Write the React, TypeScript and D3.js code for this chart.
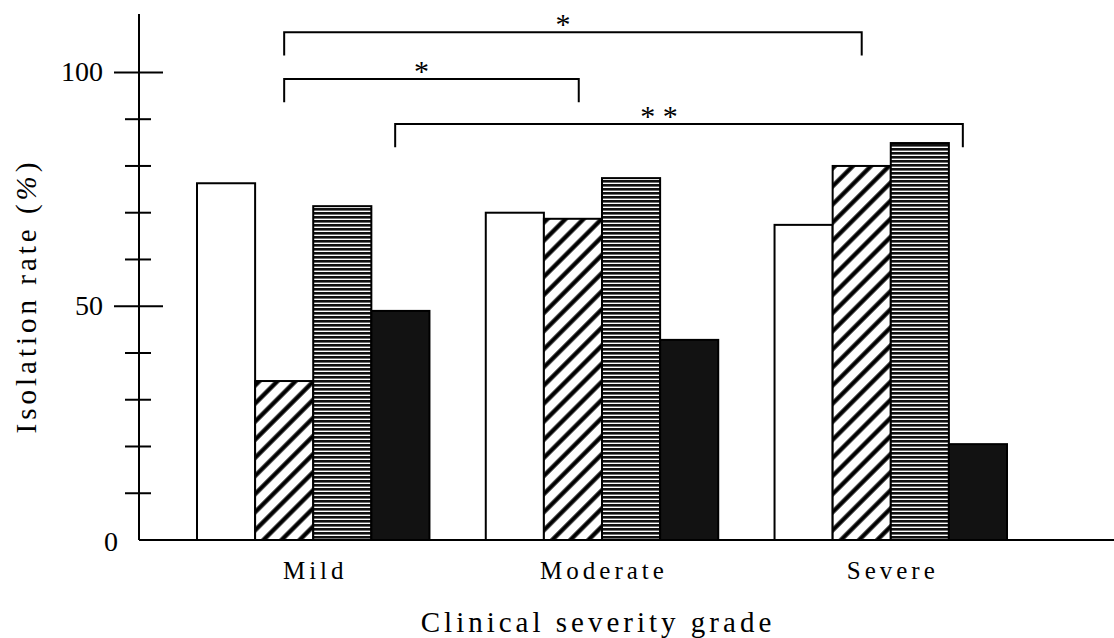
import React from "react";
import * as d3 from "d3";

const categories = ["Mild", "Moderate", "Severe"];
const seriesKeys = ["open", "diagonal", "horizontal", "solid"];
const openValues = [76.3, 70.0, 67.4];
const diagonalValues = [34.0, 68.7, 80.0];
const horizontalValues = [71.4, 77.4, 84.9];
const solidValues = [49.0, 42.8, 20.5];

const yTickValues = [10, 20, 30, 40, 50, 60, 70, 80, 90, 100];
const yMajorTicks = [50, 100];
const yTickLabels = ["0", "50", "100"];

const xTitle = "Clinical severity grade";
const yTitle = "Isolation rate (";
const yTitlePct = "%";
const yTitleEnd = ")";

// significance brackets: positions given as group + bar offset (in bar widths)
const bracketFromGroup = ["Mild", "Mild", "Mild"];
const bracketFromBar = [1.5, 1.5, 3.41];
const bracketToGroup = ["Severe", "Moderate", "Severe"];
const bracketToBar = [1.5, 1.6, 3.24];
const bracketLevels = [108.6, 98.6, 89.0];
const bracketLabels = ["*", "*", "* *"];

const W = 1114;
const H = 638;
const AXIS_X = 139;
const BASE_Y = 540;
const TOP_Y = 14;
const FONT = "'Liberation Serif', 'Times New Roman', serif";

export default function App() {
  const values = [openValues, diagonalValues, horizontalValues, solidValues];
  const y = d3.scaleLinear().domain([0, 112.5]).range([BASE_Y, TOP_Y]);
  const x0 = d3.scaleBand<string>().domain(categories).range([197, 1007]).paddingInner(0.195).paddingOuter(0);
  const x1 = d3.scaleBand<string>().domain(seriesKeys).range([0, x0.bandwidth()]).padding(0);
  const bw = x1.bandwidth();
  const fills: Record<string, string> = {
    open: "#ffffff",
    diagonal: "url(#diagHatch)",
    horizontal: "url(#horizHatch)",
    solid: "#121212",
  };
  const legLen = 5;

  return (
    <svg width={W} height={H} style={{ position: "absolute", left: 0, top: 0, background: "#fff" }} fontFamily={FONT}>
      <defs>
        <pattern id="diagHatch" patternUnits="userSpaceOnUse" width={12.8} height={12.8} patternTransform="rotate(45)">
          <rect width={12.8} height={12.8} fill="#fff" />
          <line x1={6.4} y1={-1} x2={6.4} y2={14} stroke="#000" strokeWidth={4.3} />
        </pattern>
        <pattern id="horizHatch" patternUnits="userSpaceOnUse" width={10} height={4}>
          <rect width={10} height={4} fill="#fff" />
          <rect width={10} height={2.6} fill="#111" />
        </pattern>
      </defs>

      {/* bars */}
      {categories.map((c, gi) => (
        <g key={c} transform={`translate(${x0(c)},0)`}>
          {seriesKeys.map((s, si) => {
            const v = values[si][gi];
            return (
              <rect
                key={s}
                x={x1(s)}
                y={y(v)}
                width={bw}
                height={y(0) - y(v)}
                fill={fills[s]}
                stroke="#000"
                strokeWidth={2}
              />
            );
          })}
        </g>
      ))}

      {/* axes */}
      <line x1={AXIS_X} y1={y(0)} x2={W} y2={y(0)} stroke="#000" strokeWidth={2} />
      <line x1={AXIS_X} y1={y(0)} x2={AXIS_X} y2={TOP_Y} stroke="#000" strokeWidth={2} />
      {yTickValues.map((t) => {
        const major = yMajorTicks.includes(t);
        return (
          <line
            key={t}
            x1={major ? AXIS_X - 25 : AXIS_X - 14}
            x2={major ? AXIS_X + 24 : AXIS_X + 12}
            y1={y(t)}
            y2={y(t)}
            stroke="#000"
            strokeWidth={2}
          />
        );
      })}
      {yTickLabels.map((l) => {
        const v = +l;
        const xr = v === 0 ? 118 : 103;
        return (
          <text key={l} x={xr} y={y(v)} dy={v === 0 ? 11 : 8.5} textAnchor="end" fontSize={28} fill="#000">
            {l}
          </text>
        );
      })}

      {/* category labels */}
      {categories.map((c) => (
        <text
          key={c}
          x={(x0(c) as number) + x0.bandwidth() / 2 + 2}
          y={579}
          textAnchor="middle"
          fontSize={25}
          letterSpacing={4}
          fill="#000"
        >
          {c}
        </text>
      ))}

      {/* axis titles */}
      <text x={598} y={632} textAnchor="middle" fontSize={29} letterSpacing={4} fill="#000">
        {xTitle}
      </text>
      <text
        transform={`translate(36,${296}) rotate(-90)`}
        textAnchor="middle"
        fontSize={29}
        letterSpacing={4}
        fill="#000"
      >
        {yTitle}
        <tspan fontStyle="italic">{yTitlePct}</tspan>
        {yTitleEnd}
      </text>

      {/* significance brackets */}
      {bracketLabels.map((lab, i) => {
        const xa = (x0(bracketFromGroup[i]) as number) + bracketFromBar[i] * bw;
        const xb = (x0(bracketToGroup[i]) as number) + bracketToBar[i] * bw;
        const yl = y(bracketLevels[i]);
        const yd = y(bracketLevels[i] - legLen);
        const cx = (xa + xb) / 2 - (lab.length > 1 ? 20 : 10);
        return (
          <g key={i}>
            <path d={`M${xa},${yd}V${yl}H${xb}V${yd}`} fill="none" stroke="#000" strokeWidth={2} />
            <text x={cx} y={yl + 2} textAnchor="middle" fontSize={30} fill="#000">
              {lab}
            </text>
          </g>
        );
      })}
    </svg>
  );
}
